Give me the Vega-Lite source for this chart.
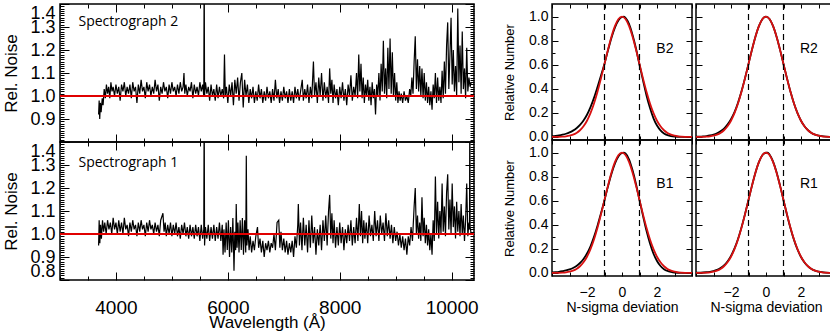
{
"$schema":"https://vega.github.io/schema/vega-lite/v6.json",
"background":"white",
"padding":{"left":2,"top":-4,"right":0,"bottom":0},
"datasets":{
"s2":[{"w":3690,"n":0.92},{"w":3700,"n":0.98},{"w":3710,"n":0.9},{"w":3722,"n":0.97},{"w":3735,"n":0.93},{"w":3755,"n":0.99},{"w":3770,"n":0.96},{"w":3790,"n":1.03},{"w":3810,"n":0.99},{"w":3830,"n":1.05},{"w":3850,"n":1.01},{"w":3870,"n":1.04},{"w":3890,"n":0.99},{"w":3910,"n":1.06},{"w":3930,"n":1.02},{"w":3950,"n":1.04},{"w":3975,"n":1.0},{"w":4000,"n":1.05},{"w":4025,"n":1.01},{"w":4050,"n":1.04},{"w":4075,"n":0.98},{"w":4100,"n":1.05},{"w":4125,"n":1.02},{"w":4150,"n":1.06},{"w":4175,"n":1.0},{"w":4200,"n":1.04},{"w":4225,"n":1.01},{"w":4250,"n":1.05},{"w":4275,"n":0.99},{"w":4300,"n":1.06},{"w":4325,"n":1.02},{"w":4350,"n":1.04},{"w":4375,"n":0.97},{"w":4400,"n":1.05},{"w":4425,"n":1.01},{"w":4450,"n":1.07},{"w":4475,"n":1.02},{"w":4500,"n":1.04},{"w":4525,"n":0.99},{"w":4550,"n":1.06},{"w":4575,"n":1.02},{"w":4600,"n":1.05},{"w":4625,"n":1.0},{"w":4650,"n":1.04},{"w":4675,"n":1.01},{"w":4700,"n":1.07},{"w":4725,"n":1.02},{"w":4750,"n":1.05},{"w":4775,"n":0.98},{"w":4800,"n":1.04},{"w":4825,"n":1.01},{"w":4850,"n":1.06},{"w":4875,"n":1.02},{"w":4900,"n":1.04},{"w":4925,"n":0.99},{"w":4950,"n":1.05},{"w":4975,"n":1.01},{"w":5000,"n":1.06},{"w":5025,"n":1.02},{"w":5050,"n":1.04},{"w":5075,"n":1.0},{"w":5100,"n":1.05},{"w":5125,"n":1.01},{"w":5150,"n":1.06},{"w":5175,"n":1.02},{"w":5200,"n":1.04},{"w":5216,"n":1.1},{"w":5230,"n":1.01},{"w":5250,"n":1.05},{"w":5275,"n":1.0},{"w":5300,"n":1.04},{"w":5325,"n":1.02},{"w":5350,"n":1.06},{"w":5375,"n":0.99},{"w":5400,"n":1.05},{"w":5425,"n":1.01},{"w":5450,"n":1.04},{"w":5475,"n":1.0},{"w":5500,"n":1.06},{"w":5525,"n":1.02},{"w":5550,"n":1.05},{"w":5570,"n":1.0},{"w":5577,"n":1.6},{"w":5584,"n":1.0},{"w":5600,"n":1.06},{"w":5625,"n":1.01},{"w":5650,"n":1.04},{"w":5675,"n":0.98},{"w":5700,"n":1.05},{"w":5725,"n":1.0},{"w":5750,"n":1.03},{"w":5775,"n":0.98},{"w":5800,"n":1.05},{"w":5825,"n":0.99},{"w":5850,"n":1.04},{"w":5875,"n":1.0},{"w":5900,"n":1.03},{"w":5925,"n":0.99},{"w":5940,"n":1.18},{"w":5955,"n":1.0},{"w":5975,"n":1.04},{"w":6000,"n":0.97},{"w":6025,"n":1.05},{"w":6050,"n":1.0},{"w":6075,"n":1.06},{"w":6100,"n":0.96},{"w":6125,"n":1.07},{"w":6150,"n":1.01},{"w":6175,"n":1.08},{"w":6200,"n":0.98},{"w":6225,"n":1.06},{"w":6250,"n":1.1},{"w":6275,"n":0.95},{"w":6300,"n":1.07},{"w":6325,"n":1.0},{"w":6350,"n":1.05},{"w":6375,"n":0.97},{"w":6400,"n":1.03},{"w":6425,"n":0.99},{"w":6450,"n":1.04},{"w":6475,"n":0.97},{"w":6500,"n":1.02},{"w":6525,"n":0.98},{"w":6550,"n":1.05},{"w":6575,"n":0.99},{"w":6600,"n":1.03},{"w":6625,"n":0.97},{"w":6650,"n":1.02},{"w":6675,"n":0.98},{"w":6700,"n":1.04},{"w":6725,"n":0.99},{"w":6750,"n":1.02},{"w":6775,"n":0.97},{"w":6800,"n":1.03},{"w":6825,"n":0.98},{"w":6850,"n":1.07},{"w":6875,"n":0.99},{"w":6900,"n":1.03},{"w":6925,"n":0.97},{"w":6950,"n":1.02},{"w":6975,"n":0.98},{"w":7000,"n":1.04},{"w":7025,"n":0.99},{"w":7050,"n":1.02},{"w":7075,"n":0.97},{"w":7100,"n":1.03},{"w":7125,"n":0.98},{"w":7150,"n":1.02},{"w":7175,"n":0.97},{"w":7200,"n":1.04},{"w":7225,"n":0.99},{"w":7250,"n":1.03},{"w":7275,"n":0.98},{"w":7300,"n":1.02},{"w":7330,"n":1.07},{"w":7350,"n":0.98},{"w":7375,"n":1.03},{"w":7400,"n":0.99},{"w":7425,"n":1.05},{"w":7450,"n":0.97},{"w":7475,"n":1.04},{"w":7500,"n":0.99},{"w":7530,"n":1.15},{"w":7550,"n":1.0},{"w":7575,"n":1.06},{"w":7600,"n":0.97},{"w":7625,"n":1.08},{"w":7650,"n":1.0},{"w":7675,"n":1.1},{"w":7700,"n":0.98},{"w":7725,"n":1.06},{"w":7750,"n":0.99},{"w":7775,"n":1.04},{"w":7800,"n":0.97},{"w":7820,"n":1.12},{"w":7840,"n":1.01},{"w":7860,"n":1.07},{"w":7880,"n":0.97},{"w":7900,"n":1.05},{"w":7925,"n":0.99},{"w":7950,"n":1.03},{"w":7975,"n":0.96},{"w":8000,"n":1.04},{"w":8025,"n":0.99},{"w":8050,"n":1.06},{"w":8075,"n":0.98},{"w":8100,"n":1.03},{"w":8125,"n":0.96},{"w":8150,"n":1.05},{"w":8175,"n":1.0},{"w":8200,"n":1.09},{"w":8225,"n":0.98},{"w":8250,"n":1.04},{"w":8275,"n":1.0},{"w":8300,"n":1.1},{"w":8320,"n":0.99},{"w":8340,"n":1.18},{"w":8360,"n":1.02},{"w":8380,"n":1.14},{"w":8400,"n":0.99},{"w":8420,"n":1.08},{"w":8440,"n":0.97},{"w":8460,"n":1.05},{"w":8480,"n":1.0},{"w":8500,"n":1.07},{"w":8520,"n":0.98},{"w":8540,"n":1.04},{"w":8560,"n":0.96},{"w":8580,"n":1.06},{"w":8600,"n":0.99},{"w":8620,"n":1.03},{"w":8640,"n":0.92},{"w":8660,"n":1.05},{"w":8680,"n":1.0},{"w":8700,"n":1.1},{"w":8720,"n":0.98},{"w":8740,"n":1.14},{"w":8760,"n":1.02},{"w":8780,"n":1.24},{"w":8800,"n":1.01},{"w":8820,"n":1.12},{"w":8840,"n":0.99},{"w":8860,"n":1.21},{"w":8880,"n":1.03},{"w":8900,"n":1.25},{"w":8920,"n":1.01},{"w":8940,"n":1.19},{"w":8960,"n":1.0},{"w":8980,"n":1.1},{"w":9000,"n":0.98},{"w":9020,"n":1.06},{"w":9040,"n":0.97},{"w":9060,"n":1.02},{"w":9080,"n":0.98},{"w":9100,"n":1.01},{"w":9125,"n":0.97},{"w":9150,"n":1.02},{"w":9175,"n":0.98},{"w":9200,"n":1.0},{"w":9225,"n":0.97},{"w":9250,"n":1.03},{"w":9270,"n":1.0},{"w":9290,"n":1.08},{"w":9310,"n":1.01},{"w":9330,"n":1.15},{"w":9350,"n":1.26},{"w":9370,"n":1.03},{"w":9390,"n":1.16},{"w":9410,"n":1.02},{"w":9430,"n":1.13},{"w":9450,"n":1.0},{"w":9470,"n":1.12},{"w":9490,"n":0.99},{"w":9510,"n":1.1},{"w":9530,"n":0.98},{"w":9550,"n":1.06},{"w":9570,"n":0.97},{"w":9590,"n":1.04},{"w":9610,"n":0.96},{"w":9630,"n":1.02},{"w":9650,"n":0.94},{"w":9670,"n":1.05},{"w":9690,"n":0.99},{"w":9710,"n":1.1},{"w":9730,"n":0.97},{"w":9750,"n":1.08},{"w":9770,"n":0.98},{"w":9790,"n":1.04},{"w":9810,"n":0.97},{"w":9830,"n":1.11},{"w":9850,"n":0.99},{"w":9870,"n":1.15},{"w":9890,"n":1.01},{"w":9910,"n":1.22},{"w":9930,"n":1.32},{"w":9950,"n":1.03},{"w":9970,"n":1.18},{"w":9990,"n":1.34},{"w":10010,"n":1.05},{"w":10030,"n":1.2},{"w":10050,"n":1.02},{"w":10070,"n":1.13},{"w":10090,"n":1.0},{"w":10110,"n":1.38},{"w":10130,"n":1.06},{"w":10150,"n":1.22},{"w":10170,"n":1.01},{"w":10190,"n":1.28},{"w":10210,"n":1.03},{"w":10230,"n":1.12},{"w":10250,"n":0.99},{"w":10270,"n":1.21},{"w":10290,"n":1.02},{"w":10310,"n":1.08},{"w":10330,"n":1.04},{"w":10350,"n":1.06}],
"s1":[{"w":3690,"n":0.95},{"w":3700,"n":1.06},{"w":3712,"n":0.96},{"w":3725,"n":1.04},{"w":3740,"n":0.98},{"w":3760,"n":1.06},{"w":3780,"n":1.01},{"w":3800,"n":1.05},{"w":3825,"n":1.0},{"w":3850,"n":1.06},{"w":3875,"n":1.02},{"w":3900,"n":1.05},{"w":3925,"n":1.0},{"w":3950,"n":1.07},{"w":3975,"n":1.02},{"w":4000,"n":1.05},{"w":4025,"n":1.0},{"w":4050,"n":1.06},{"w":4075,"n":1.01},{"w":4100,"n":1.05},{"w":4125,"n":1.0},{"w":4150,"n":1.07},{"w":4175,"n":1.02},{"w":4200,"n":1.04},{"w":4225,"n":0.99},{"w":4250,"n":1.05},{"w":4275,"n":1.01},{"w":4300,"n":1.06},{"w":4325,"n":1.02},{"w":4350,"n":1.04},{"w":4375,"n":0.99},{"w":4400,"n":1.05},{"w":4425,"n":1.01},{"w":4450,"n":1.06},{"w":4475,"n":1.02},{"w":4500,"n":1.04},{"w":4525,"n":0.99},{"w":4550,"n":1.05},{"w":4575,"n":1.01},{"w":4600,"n":1.06},{"w":4625,"n":1.02},{"w":4650,"n":1.04},{"w":4675,"n":1.0},{"w":4700,"n":1.05},{"w":4725,"n":1.01},{"w":4750,"n":1.04},{"w":4775,"n":0.99},{"w":4800,"n":1.06},{"w":4840,"n":1.09},{"w":4860,"n":1.01},{"w":4880,"n":1.05},{"w":4900,"n":0.99},{"w":4925,"n":1.04},{"w":4950,"n":1.0},{"w":4975,"n":1.05},{"w":5000,"n":0.99},{"w":5025,"n":1.04},{"w":5050,"n":1.0},{"w":5075,"n":1.05},{"w":5100,"n":0.99},{"w":5125,"n":1.03},{"w":5150,"n":0.98},{"w":5175,"n":1.04},{"w":5200,"n":1.0},{"w":5225,"n":1.05},{"w":5250,"n":0.99},{"w":5275,"n":1.03},{"w":5300,"n":0.98},{"w":5325,"n":1.04},{"w":5350,"n":0.99},{"w":5375,"n":1.03},{"w":5400,"n":0.98},{"w":5425,"n":1.04},{"w":5450,"n":0.99},{"w":5475,"n":1.03},{"w":5500,"n":0.97},{"w":5525,"n":1.04},{"w":5550,"n":0.98},{"w":5570,"n":1.02},{"w":5577,"n":1.6},{"w":5584,"n":0.95},{"w":5600,"n":1.03},{"w":5625,"n":0.98},{"w":5650,"n":1.04},{"w":5675,"n":0.97},{"w":5700,"n":1.03},{"w":5725,"n":0.98},{"w":5750,"n":1.04},{"w":5775,"n":0.97},{"w":5800,"n":1.03},{"w":5825,"n":0.98},{"w":5850,"n":1.05},{"w":5875,"n":0.97},{"w":5900,"n":1.04},{"w":5915,"n":0.91},{"w":5930,"n":1.02},{"w":5950,"n":0.92},{"w":5970,"n":1.05},{"w":5990,"n":0.93},{"w":6010,"n":1.06},{"w":6030,"n":0.9},{"w":6050,"n":1.03},{"w":6070,"n":0.92},{"w":6090,"n":1.07},{"w":6110,"n":0.84},{"w":6125,"n":1.01},{"w":6140,"n":0.93},{"w":6150,"n":1.13},{"w":6165,"n":0.94},{"w":6180,"n":1.05},{"w":6200,"n":0.92},{"w":6220,"n":1.06},{"w":6240,"n":0.93},{"w":6260,"n":1.07},{"w":6280,"n":0.91},{"w":6300,"n":1.06},{"w":6320,"n":0.92},{"w":6330,"n":1.34},{"w":6340,"n":0.95},{"w":6360,"n":1.02},{"w":6380,"n":0.93},{"w":6400,"n":0.99},{"w":6425,"n":0.92},{"w":6450,"n":0.97},{"w":6475,"n":0.93},{"w":6500,"n":0.99},{"w":6530,"n":1.03},{"w":6550,"n":0.94},{"w":6575,"n":0.98},{"w":6600,"n":0.92},{"w":6625,"n":0.97},{"w":6650,"n":0.9},{"w":6675,"n":0.96},{"w":6700,"n":0.93},{"w":6725,"n":0.97},{"w":6750,"n":0.92},{"w":6775,"n":0.96},{"w":6800,"n":0.94},{"w":6825,"n":1.0},{"w":6850,"n":0.93},{"w":6880,"n":1.05},{"w":6910,"n":1.06},{"w":6930,"n":0.94},{"w":6950,"n":1.01},{"w":6975,"n":0.93},{"w":7000,"n":0.98},{"w":7025,"n":0.92},{"w":7050,"n":0.97},{"w":7075,"n":0.91},{"w":7100,"n":0.96},{"w":7125,"n":0.92},{"w":7150,"n":0.97},{"w":7175,"n":0.9},{"w":7200,"n":0.99},{"w":7225,"n":0.94},{"w":7250,"n":1.04},{"w":7260,"n":1.13},{"w":7280,"n":0.95},{"w":7300,"n":1.05},{"w":7325,"n":0.93},{"w":7350,"n":1.07},{"w":7375,"n":0.95},{"w":7400,"n":1.04},{"w":7425,"n":0.92},{"w":7450,"n":1.06},{"w":7475,"n":0.94},{"w":7500,"n":1.08},{"w":7525,"n":0.96},{"w":7550,"n":1.03},{"w":7575,"n":0.91},{"w":7600,"n":1.02},{"w":7625,"n":0.95},{"w":7650,"n":1.04},{"w":7675,"n":0.93},{"w":7700,"n":1.06},{"w":7725,"n":0.97},{"w":7750,"n":1.08},{"w":7775,"n":0.95},{"w":7800,"n":1.1},{"w":7820,"n":1.17},{"w":7840,"n":0.98},{"w":7860,"n":1.09},{"w":7880,"n":0.96},{"w":7900,"n":1.06},{"w":7925,"n":0.94},{"w":7950,"n":1.03},{"w":7975,"n":0.95},{"w":8000,"n":1.05},{"w":8025,"n":0.96},{"w":8050,"n":1.03},{"w":8075,"n":0.93},{"w":8100,"n":1.02},{"w":8125,"n":0.96},{"w":8150,"n":1.04},{"w":8175,"n":0.97},{"w":8200,"n":1.06},{"w":8225,"n":0.95},{"w":8250,"n":1.03},{"w":8275,"n":0.96},{"w":8300,"n":1.07},{"w":8325,"n":0.97},{"w":8350,"n":1.13},{"w":8370,"n":0.99},{"w":8390,"n":1.1},{"w":8410,"n":0.96},{"w":8430,"n":1.06},{"w":8450,"n":0.98},{"w":8475,"n":1.05},{"w":8500,"n":0.96},{"w":8525,"n":1.08},{"w":8550,"n":0.99},{"w":8575,"n":1.04},{"w":8600,"n":0.97},{"w":8625,"n":1.1},{"w":8650,"n":0.99},{"w":8675,"n":1.06},{"w":8700,"n":0.97},{"w":8725,"n":1.08},{"w":8750,"n":1.0},{"w":8775,"n":1.05},{"w":8800,"n":0.97},{"w":8825,"n":1.09},{"w":8850,"n":0.99},{"w":8875,"n":1.06},{"w":8900,"n":0.98},{"w":8925,"n":1.04},{"w":8950,"n":0.96},{"w":8975,"n":1.03},{"w":9000,"n":0.97},{"w":9025,"n":1.01},{"w":9050,"n":0.95},{"w":9075,"n":1.0},{"w":9100,"n":0.94},{"w":9125,"n":0.99},{"w":9150,"n":0.93},{"w":9175,"n":0.98},{"w":9200,"n":0.91},{"w":9225,"n":0.99},{"w":9250,"n":0.95},{"w":9275,"n":1.03},{"w":9300,"n":0.97},{"w":9330,"n":1.12},{"w":9350,"n":1.2},{"w":9370,"n":1.0},{"w":9390,"n":1.08},{"w":9410,"n":0.98},{"w":9430,"n":1.05},{"w":9450,"n":0.97},{"w":9470,"n":1.16},{"w":9490,"n":0.99},{"w":9510,"n":1.07},{"w":9530,"n":0.96},{"w":9550,"n":1.04},{"w":9570,"n":0.95},{"w":9590,"n":1.02},{"w":9610,"n":0.93},{"w":9630,"n":1.0},{"w":9650,"n":0.91},{"w":9670,"n":1.06},{"w":9690,"n":0.97},{"w":9710,"n":1.25},{"w":9730,"n":1.0},{"w":9750,"n":1.14},{"w":9770,"n":0.98},{"w":9790,"n":1.1},{"w":9810,"n":1.0},{"w":9830,"n":1.22},{"w":9850,"n":1.01},{"w":9870,"n":1.12},{"w":9890,"n":0.99},{"w":9910,"n":1.18},{"w":9930,"n":1.26},{"w":9950,"n":1.02},{"w":9970,"n":1.15},{"w":9990,"n":1.0},{"w":10010,"n":1.22},{"w":10030,"n":1.03},{"w":10050,"n":1.12},{"w":10070,"n":0.98},{"w":10090,"n":1.14},{"w":10110,"n":1.01},{"w":10130,"n":1.1},{"w":10150,"n":0.99},{"w":10170,"n":1.13},{"w":10190,"n":1.0},{"w":10210,"n":1.08},{"w":10230,"n":0.97},{"w":10250,"n":1.06},{"w":10270,"n":1.22},{"w":10290,"n":0.99},{"w":10310,"n":1.05},{"w":10320,"n":1.02},{"w":10325,"n":1.6},{"w":10330,"n":1.03},{"w":10350,"n":1.0}],
"g":[{"x":-4.0,"y":0.0003},{"x":-3.8,"y":0.0007},{"x":-3.6,"y":0.0015},{"x":-3.4,"y":0.0031},{"x":-3.2,"y":0.006},{"x":-3.0,"y":0.0111},{"x":-2.8,"y":0.0198},{"x":-2.6,"y":0.034},{"x":-2.4,"y":0.0561},{"x":-2.2,"y":0.0889},{"x":-2.0,"y":0.1353},{"x":-1.8,"y":0.1979},{"x":-1.6,"y":0.278},{"x":-1.4,"y":0.3753},{"x":-1.2,"y":0.4868},{"x":-1.0,"y":0.6065},{"x":-0.8,"y":0.7261},{"x":-0.6,"y":0.8353},{"x":-0.4,"y":0.9231},{"x":-0.2,"y":0.9802},{"x":0.0,"y":1.0},{"x":0.2,"y":0.9802},{"x":0.4,"y":0.9231},{"x":0.6,"y":0.8353},{"x":0.8,"y":0.7261},{"x":1.0,"y":0.6065},{"x":1.2,"y":0.4868},{"x":1.4,"y":0.3753},{"x":1.6,"y":0.278},{"x":1.8,"y":0.1979},{"x":2.0,"y":0.1353},{"x":2.2,"y":0.0889},{"x":2.4,"y":0.0561},{"x":2.6,"y":0.034},{"x":2.8,"y":0.0198},{"x":3.0,"y":0.0111},{"x":3.2,"y":0.006},{"x":3.4,"y":0.0031},{"x":3.6,"y":0.0015},{"x":3.8,"y":0.0007},{"x":4.0,"y":0.0003}],
"k":[
{"p":"B2","x":-4.0,"y":0.006},{"p":"B2","x":-3.8,"y":0.009},{"p":"B2","x":-3.6,"y":0.013},{"p":"B2","x":-3.4,"y":0.019},{"p":"B2","x":-3.2,"y":0.027},{"p":"B2","x":-3.0,"y":0.038},{"p":"B2","x":-2.8,"y":0.053},{"p":"B2","x":-2.6,"y":0.073},{"p":"B2","x":-2.4,"y":0.1},{"p":"B2","x":-2.2,"y":0.137},{"p":"B2","x":-2.0,"y":0.185},{"p":"B2","x":-1.8,"y":0.248},{"p":"B2","x":-1.6,"y":0.325},{"p":"B2","x":-1.4,"y":0.415},{"p":"B2","x":-1.2,"y":0.51},{"p":"B2","x":-1.0,"y":0.608},{"p":"B2","x":-0.8,"y":0.72},{"p":"B2","x":-0.6,"y":0.825},{"p":"B2","x":-0.4,"y":0.91},{"p":"B2","x":-0.2,"y":0.97},{"p":"B2","x":0.0,"y":0.997},{"p":"B2","x":0.1,"y":1.0},{"p":"B2","x":0.2,"y":0.99},{"p":"B2","x":0.4,"y":0.94},{"p":"B2","x":0.6,"y":0.85},{"p":"B2","x":0.8,"y":0.735},{"p":"B2","x":1.0,"y":0.6},{"p":"B2","x":1.2,"y":0.47},{"p":"B2","x":1.4,"y":0.345},{"p":"B2","x":1.6,"y":0.24},{"p":"B2","x":1.8,"y":0.155},{"p":"B2","x":2.0,"y":0.095},{"p":"B2","x":2.2,"y":0.055},{"p":"B2","x":2.4,"y":0.03},{"p":"B2","x":2.6,"y":0.016},{"p":"B2","x":2.8,"y":0.008},{"p":"B2","x":3.0,"y":0.004},{"p":"B2","x":3.4,"y":0.001},{"p":"B2","x":4.0,"y":0.0},
{"p":"B1","x":-4.0,"y":0.005},{"p":"B1","x":-3.8,"y":0.007},{"p":"B1","x":-3.6,"y":0.01},{"p":"B1","x":-3.4,"y":0.015},{"p":"B1","x":-3.2,"y":0.021},{"p":"B1","x":-3.0,"y":0.03},{"p":"B1","x":-2.8,"y":0.042},{"p":"B1","x":-2.6,"y":0.059},{"p":"B1","x":-2.4,"y":0.083},{"p":"B1","x":-2.2,"y":0.116},{"p":"B1","x":-2.0,"y":0.162},{"p":"B1","x":-1.8,"y":0.222},{"p":"B1","x":-1.6,"y":0.3},{"p":"B1","x":-1.4,"y":0.393},{"p":"B1","x":-1.2,"y":0.497},{"p":"B1","x":-1.0,"y":0.605},{"p":"B1","x":-0.8,"y":0.72},{"p":"B1","x":-0.6,"y":0.825},{"p":"B1","x":-0.4,"y":0.91},{"p":"B1","x":-0.2,"y":0.97},{"p":"B1","x":0.0,"y":0.997},{"p":"B1","x":0.1,"y":1.0},{"p":"B1","x":0.2,"y":0.993},{"p":"B1","x":0.4,"y":0.945},{"p":"B1","x":0.6,"y":0.855},{"p":"B1","x":0.8,"y":0.74},{"p":"B1","x":1.0,"y":0.605},{"p":"B1","x":1.2,"y":0.475},{"p":"B1","x":1.4,"y":0.35},{"p":"B1","x":1.6,"y":0.245},{"p":"B1","x":1.8,"y":0.16},{"p":"B1","x":2.0,"y":0.1},{"p":"B1","x":2.2,"y":0.058},{"p":"B1","x":2.4,"y":0.032},{"p":"B1","x":2.6,"y":0.017},{"p":"B1","x":2.8,"y":0.009},{"p":"B1","x":3.0,"y":0.004},{"p":"B1","x":3.4,"y":0.001},{"p":"B1","x":4.0,"y":0.0},
{"p":"R2","x":-4.0,"y":0.002},{"p":"R2","x":-3.8,"y":0.003},{"p":"R2","x":-3.6,"y":0.005},{"p":"R2","x":-3.4,"y":0.008},{"p":"R2","x":-3.2,"y":0.013},{"p":"R2","x":-3.0,"y":0.02},{"p":"R2","x":-2.8,"y":0.031},{"p":"R2","x":-2.6,"y":0.047},{"p":"R2","x":-2.4,"y":0.07},{"p":"R2","x":-2.2,"y":0.103},{"p":"R2","x":-2.0,"y":0.148},{"p":"R2","x":-1.8,"y":0.207},{"p":"R2","x":-1.6,"y":0.285},{"p":"R2","x":-1.4,"y":0.38},{"p":"R2","x":-1.2,"y":0.489},{"p":"R2","x":-1.0,"y":0.607},{"p":"R2","x":-0.8,"y":0.726},{"p":"R2","x":-0.6,"y":0.835},{"p":"R2","x":-0.4,"y":0.923},{"p":"R2","x":-0.2,"y":0.98},{"p":"R2","x":0.0,"y":1.0},{"p":"R2","x":0.2,"y":0.98},{"p":"R2","x":0.4,"y":0.923},{"p":"R2","x":0.6,"y":0.835},{"p":"R2","x":0.8,"y":0.726},{"p":"R2","x":1.0,"y":0.6065},{"p":"R2","x":1.2,"y":0.4868},{"p":"R2","x":1.4,"y":0.3753},{"p":"R2","x":1.6,"y":0.278},{"p":"R2","x":1.8,"y":0.1979},{"p":"R2","x":2.0,"y":0.1353},{"p":"R2","x":2.2,"y":0.0889},{"p":"R2","x":2.4,"y":0.0561},{"p":"R2","x":2.6,"y":0.034},{"p":"R2","x":2.8,"y":0.0198},{"p":"R2","x":3.0,"y":0.0111},{"p":"R2","x":3.4,"y":0.003},{"p":"R2","x":4.0,"y":0.0003},
{"p":"R1","x":-4.0,"y":0.002},{"p":"R1","x":-3.8,"y":0.003},{"p":"R1","x":-3.6,"y":0.004},{"p":"R1","x":-3.4,"y":0.006},{"p":"R1","x":-3.2,"y":0.01},{"p":"R1","x":-3.0,"y":0.016},{"p":"R1","x":-2.8,"y":0.026},{"p":"R1","x":-2.6,"y":0.041},{"p":"R1","x":-2.4,"y":0.063},{"p":"R1","x":-2.2,"y":0.096},{"p":"R1","x":-2.0,"y":0.142},{"p":"R1","x":-1.8,"y":0.204},{"p":"R1","x":-1.6,"y":0.283},{"p":"R1","x":-1.4,"y":0.379},{"p":"R1","x":-1.2,"y":0.489},{"p":"R1","x":-1.0,"y":0.607},{"p":"R1","x":-0.8,"y":0.726},{"p":"R1","x":-0.6,"y":0.835},{"p":"R1","x":-0.4,"y":0.923},{"p":"R1","x":-0.2,"y":0.98},{"p":"R1","x":0.0,"y":0.999},{"p":"R1","x":0.1,"y":1.0},{"p":"R1","x":0.2,"y":0.985},{"p":"R1","x":0.4,"y":0.928},{"p":"R1","x":0.6,"y":0.84},{"p":"R1","x":0.8,"y":0.728},{"p":"R1","x":1.0,"y":0.605},{"p":"R1","x":1.2,"y":0.484},{"p":"R1","x":1.4,"y":0.372},{"p":"R1","x":1.6,"y":0.275},{"p":"R1","x":1.8,"y":0.195},{"p":"R1","x":2.0,"y":0.133},{"p":"R1","x":2.2,"y":0.087},{"p":"R1","x":2.4,"y":0.055},{"p":"R1","x":2.6,"y":0.033},{"p":"R1","x":2.8,"y":0.019},{"p":"R1","x":3.0,"y":0.011},{"p":"R1","x":3.4,"y":0.003},{"p":"R1","x":4.0,"y":0.0003}
]
},
"spacing":23,
"hconcat":[
{"vconcat":[
 {"width":414,"height":138,
  "layer":[
   {"data":{"name":"s2"},"mark":{"type":"line","color":"black","strokeWidth":1.2,"clip":true},
    "encoding":{
     "x":{"field":"w","type":"quantitative","scale":{"domain":[3000,10400],"nice":false,"zero":false},
      "axis":{"orient":"bottom","values":[3000,3500,4000,4500,5000,5500,6000,6500,7000,7500,8000,8500,9000,9500,10000],"labels":false,"title":null,"tickSize":{"condition":{"test":"datum.value%2000==0","value":-8},"value":-4}}},
     "y":{"field":"n","type":"quantitative","scale":{"domain":[0.8,1.4],"nice":false,"zero":false},
      "axis":{"orient":"left","values":[0.8,0.81,0.82,0.83,0.84,0.85,0.86,0.87,0.88,0.89,0.9,0.91,0.92,0.93,0.94,0.95,0.96,0.97,0.98,0.99,1.0,1.01,1.02,1.03,1.04,1.05,1.06,1.07,1.08,1.09,1.1,1.11,1.12,1.13,1.14,1.15,1.16,1.17,1.18,1.19,1.2,1.21,1.22,1.23,1.24,1.25,1.26,1.27,1.28,1.29,1.3,1.31,1.32,1.33,1.34,1.35,1.36,1.37,1.38,1.39,1.4],
       "labelExpr":"abs(datum.value*10-round(datum.value*10))<0.001 && datum.value>0.85 ? format(datum.value,'.1f') : ''",
       "labelFontSize":18,"labelPadding":14,"labelFlush":true,
       "tickSize":{"condition":{"test":"abs(datum.value*10-round(datum.value*10))<0.001","value":-9},"value":-4},
       "title":"Rel. Noise","titleFontSize":17,"titlePadding":9}}}},
   {"data":{"values":[{"w":3330,"n":1.32,"t":"Spectrograph 2"}]},
    "mark":{"type":"text","align":"left","baseline":"middle","font":"Open Sans","fontSize":14,"color":"black"},
    "encoding":{
     "x":{"field":"w","type":"quantitative","scale":{"domain":[3000,10400],"nice":false,"zero":false},
      "axis":{"orient":"top","values":[3000,3500,4000,4500,5000,5500,6000,6500,7000,7500,8000,8500,9000,9500,10000],"labels":false,"title":null,"tickSize":{"condition":{"test":"datum.value%2000==0","value":-8},"value":-4}}},
     "y":{"field":"n","type":"quantitative","scale":{"domain":[0.8,1.4],"nice":false,"zero":false},
      "axis":{"orient":"right","values":[0.8,0.81,0.82,0.83,0.84,0.85,0.86,0.87,0.88,0.89,0.9,0.91,0.92,0.93,0.94,0.95,0.96,0.97,0.98,0.99,1.0,1.01,1.02,1.03,1.04,1.05,1.06,1.07,1.08,1.09,1.1,1.11,1.12,1.13,1.14,1.15,1.16,1.17,1.18,1.19,1.2,1.21,1.22,1.23,1.24,1.25,1.26,1.27,1.28,1.29,1.3,1.31,1.32,1.33,1.34,1.35,1.36,1.37,1.38,1.39,1.4],
       "labels":false,"title":null,
       "tickSize":{"condition":{"test":"abs(datum.value*10-round(datum.value*10))<0.001","value":-9},"value":-4}}},
     "text":{"field":"t"}}},
   {"data":{"values":[{"n":1}]},"mark":{"type":"rule","color":"#e00000","strokeWidth":1.8},
    "encoding":{"y":{"field":"n","type":"quantitative","scale":{"domain":[0.8,1.4],"nice":false,"zero":false},"axis":null}}}
  ],
  "resolve":{"axis":{"x":"independent","y":"independent"}}},
 {"width":414,"height":138,
  "layer":[
   {"data":{"name":"s1"},"mark":{"type":"line","color":"black","strokeWidth":1.2,"clip":true},
    "encoding":{
     "x":{"field":"w","type":"quantitative","scale":{"domain":[3000,10400],"nice":false,"zero":false},
      "axis":{"orient":"bottom","values":[3000,3500,4000,4500,5000,5500,6000,6500,7000,7500,8000,8500,9000,9500,10000],
       "labelExpr":"datum.value%2000==0 ? format(datum.value,'d') : ''","labelFontSize":19,"labelPadding":26,
       "tickSize":{"condition":{"test":"datum.value%2000==0","value":-8},"value":-4},
       "title":"Wavelength (Å)","titleFontSize":17,"titlePadding":-7}},
     "y":{"field":"n","type":"quantitative","scale":{"domain":[0.8,1.4],"nice":false,"zero":false},
      "axis":{"orient":"left","values":[0.8,0.81,0.82,0.83,0.84,0.85,0.86,0.87,0.88,0.89,0.9,0.91,0.92,0.93,0.94,0.95,0.96,0.97,0.98,0.99,1.0,1.01,1.02,1.03,1.04,1.05,1.06,1.07,1.08,1.09,1.1,1.11,1.12,1.13,1.14,1.15,1.16,1.17,1.18,1.19,1.2,1.21,1.22,1.23,1.24,1.25,1.26,1.27,1.28,1.29,1.3,1.31,1.32,1.33,1.34,1.35,1.36,1.37,1.38,1.39,1.4],
       "labelExpr":"abs(datum.value*10-round(datum.value*10))<0.001 ? format(datum.value,'.1f') : ''",
       "labelFontSize":18,"labelPadding":14,"labelFlush":true,
       "tickSize":{"condition":{"test":"abs(datum.value*10-round(datum.value*10))<0.001","value":-9},"value":-4},
       "title":"Rel. Noise","titleFontSize":17,"titlePadding":9}}}},
   {"data":{"values":[{"w":3330,"n":1.31,"t":"Spectrograph 1"}]},
    "mark":{"type":"text","align":"left","baseline":"middle","font":"Open Sans","fontSize":14,"color":"black"},
    "encoding":{
     "x":{"field":"w","type":"quantitative","scale":{"domain":[3000,10400],"nice":false,"zero":false},
      "axis":{"orient":"top","values":[3000,3500,4000,4500,5000,5500,6000,6500,7000,7500,8000,8500,9000,9500,10000],"labels":false,"title":null,"tickSize":{"condition":{"test":"datum.value%2000==0","value":-8},"value":-4}}},
     "y":{"field":"n","type":"quantitative","scale":{"domain":[0.8,1.4],"nice":false,"zero":false},
      "axis":{"orient":"right","values":[0.8,0.81,0.82,0.83,0.84,0.85,0.86,0.87,0.88,0.89,0.9,0.91,0.92,0.93,0.94,0.95,0.96,0.97,0.98,0.99,1.0,1.01,1.02,1.03,1.04,1.05,1.06,1.07,1.08,1.09,1.1,1.11,1.12,1.13,1.14,1.15,1.16,1.17,1.18,1.19,1.2,1.21,1.22,1.23,1.24,1.25,1.26,1.27,1.28,1.29,1.3,1.31,1.32,1.33,1.34,1.35,1.36,1.37,1.38,1.39,1.4],
       "labels":false,"title":null,
       "tickSize":{"condition":{"test":"abs(datum.value*10-round(datum.value*10))<0.001","value":-9},"value":-4}}},
     "text":{"field":"t"}}},
   {"data":{"values":[{"n":1}]},"mark":{"type":"rule","color":"#e00000","strokeWidth":1.8},
    "encoding":{"y":{"field":"n","type":"quantitative","scale":{"domain":[0.8,1.4],"nice":false,"zero":false},"axis":null}}}
  ],
  "resolve":{"axis":{"x":"independent","y":"independent"}}}
 ],"spacing":0,"bounds":"flush"},
{"hconcat":[
 {"vconcat":[
  {"width":140,"height":136,
   "layer":[
    {"data":{"name":"k"},"transform":[{"filter":"datum.p=='B2'"}],"mark":{"type":"line","color":"black","strokeWidth":1.8,"interpolate":"monotone","clip":true},
     "encoding":{
      "x":{"field":"x","type":"quantitative","scale":{"domain":[-4,4],"nice":false,"zero":false},"axis":{"orient":"bottom","values":[-4,-3,-2,-1,0,1,2,3,4],"labels":false,"title":null,"tickSize":-4}},
      "y":{"field":"y","type":"quantitative","scale":{"domain":[-0.025,1.105],"nice":false,"zero":false},"axis":{"orient":"left","values":[0,0.1,0.2,0.3,0.4,0.5,0.6,0.7,0.8,0.9,1.0],"labelExpr":"abs(datum.value*5-round(datum.value*5))<0.001 ? format(datum.value,'.1f') : ''","labelFontSize":14,"labelPadding":10,"tickSize":{"condition":{"test":"abs(datum.value*5-round(datum.value*5))<0.001","value":-6},"value":-3},"title":"Relative Number","titleFontSize":13,"titlePadding":12}}}},
    {"data":{"name":"g"},"mark":{"type":"line","color":"#d81010","strokeWidth":1.8,"interpolate":"monotone","clip":true},
     "encoding":{
      "x":{"field":"x","type":"quantitative","scale":{"domain":[-4,4],"nice":false,"zero":false},"axis":{"orient":"top","values":[-4,-3,-2,-1,0,1,2,3,4],"labels":false,"title":null,"tickSize":-4}},
      "y":{"field":"y","type":"quantitative","scale":{"domain":[-0.025,1.105],"nice":false,"zero":false},"axis":{"orient":"right","values":[0,0.1,0.2,0.3,0.4,0.5,0.6,0.7,0.8,0.9,1.0],"labels":false,"title":null,"tickSize":{"condition":{"test":"abs(datum.value*5-round(datum.value*5))<0.001","value":-6},"value":-3}}}}},
    {"data":{"values":[{"x":-1},{"x":1}]},"mark":{"type":"rule","color":"black","strokeWidth":1.2,"strokeDash":[6,4]},
     "encoding":{"x":{"field":"x","type":"quantitative","scale":{"domain":[-4,4],"nice":false,"zero":false},"axis":null}}},
    {"data":{"values":[{"x":2.45,"y":0.73,"t":"B2"}]},"mark":{"type":"text","fontSize":14,"color":"black"},
     "encoding":{"x":{"field":"x","type":"quantitative","scale":{"domain":[-4,4],"nice":false,"zero":false},"axis":null},"y":{"field":"y","type":"quantitative","scale":{"domain":[-0.025,1.105],"nice":false,"zero":false},"axis":null},"text":{"field":"t"}}}
   ],
   "resolve":{"axis":{"x":"independent","y":"independent"}}},
  {"width":140,"height":136,
   "layer":[
    {"data":{"name":"k"},"transform":[{"filter":"datum.p=='B1'"}],"mark":{"type":"line","color":"black","strokeWidth":1.8,"interpolate":"monotone","clip":true},
     "encoding":{
      "x":{"field":"x","type":"quantitative","scale":{"domain":[-4,4],"nice":false,"zero":false},"axis":{"orient":"bottom","values":[-4,-3,-2,-1,0,1,2,3,4],"labelExpr":"datum.value==-2||datum.value==0||datum.value==2 ? format(datum.value,'d') : ''","labelFontSize":14,"labelPadding":13,"tickSize":-4,"title":"N-sigma deviation","titleFontSize":14,"titlePadding":1}},
      "y":{"field":"y","type":"quantitative","scale":{"domain":[-0.025,1.105],"nice":false,"zero":false},"axis":{"orient":"left","values":[0,0.1,0.2,0.3,0.4,0.5,0.6,0.7,0.8,0.9,1.0],"labelExpr":"abs(datum.value*5-round(datum.value*5))<0.001 ? format(datum.value,'.1f') : ''","labelFontSize":14,"labelPadding":10,"tickSize":{"condition":{"test":"abs(datum.value*5-round(datum.value*5))<0.001","value":-6},"value":-3},"title":"Relative Number","titleFontSize":13,"titlePadding":12}}}},
    {"data":{"name":"g"},"mark":{"type":"line","color":"#d81010","strokeWidth":1.8,"interpolate":"monotone","clip":true},
     "encoding":{
      "x":{"field":"x","type":"quantitative","scale":{"domain":[-4,4],"nice":false,"zero":false},"axis":{"orient":"top","values":[-4,-3,-2,-1,0,1,2,3,4],"labels":false,"title":null,"tickSize":-4}},
      "y":{"field":"y","type":"quantitative","scale":{"domain":[-0.025,1.105],"nice":false,"zero":false},"axis":{"orient":"right","values":[0,0.1,0.2,0.3,0.4,0.5,0.6,0.7,0.8,0.9,1.0],"labels":false,"title":null,"tickSize":{"condition":{"test":"abs(datum.value*5-round(datum.value*5))<0.001","value":-6},"value":-3}}}}},
    {"data":{"values":[{"x":-1},{"x":1}]},"mark":{"type":"rule","color":"black","strokeWidth":1.2,"strokeDash":[6,4]},
     "encoding":{"x":{"field":"x","type":"quantitative","scale":{"domain":[-4,4],"nice":false,"zero":false},"axis":null}}},
    {"data":{"values":[{"x":2.45,"y":0.74,"t":"B1"}]},"mark":{"type":"text","fontSize":14,"color":"black"},
     "encoding":{"x":{"field":"x","type":"quantitative","scale":{"domain":[-4,4],"nice":false,"zero":false},"axis":null},"y":{"field":"y","type":"quantitative","scale":{"domain":[-0.025,1.105],"nice":false,"zero":false},"axis":null},"text":{"field":"t"}}}
   ],
   "resolve":{"axis":{"x":"independent","y":"independent"}}}
 ],"spacing":0,"bounds":"flush"},
 {"vconcat":[
  {"width":140,"height":136,
   "layer":[
    {"data":{"name":"k"},"transform":[{"filter":"datum.p=='R2'"}],"mark":{"type":"line","color":"black","strokeWidth":1.8,"interpolate":"monotone","clip":true},
     "encoding":{
      "x":{"field":"x","type":"quantitative","scale":{"domain":[-4,4],"nice":false,"zero":false},"axis":{"orient":"bottom","values":[-4,-3,-2,-1,0,1,2,3,4],"labels":false,"title":null,"tickSize":-4}},
      "y":{"field":"y","type":"quantitative","scale":{"domain":[-0.025,1.105],"nice":false,"zero":false},"axis":{"orient":"left","values":[0,0.1,0.2,0.3,0.4,0.5,0.6,0.7,0.8,0.9,1.0],"labels":false,"title":null,"tickSize":{"condition":{"test":"abs(datum.value*5-round(datum.value*5))<0.001","value":-6},"value":-3}}}}},
    {"data":{"name":"g"},"mark":{"type":"line","color":"#d81010","strokeWidth":1.8,"interpolate":"monotone","clip":true},
     "encoding":{
      "x":{"field":"x","type":"quantitative","scale":{"domain":[-4,4],"nice":false,"zero":false},"axis":{"orient":"top","values":[-4,-3,-2,-1,0,1,2,3,4],"labels":false,"title":null,"tickSize":-4}},
      "y":{"field":"y","type":"quantitative","scale":{"domain":[-0.025,1.105],"nice":false,"zero":false},"axis":{"orient":"right","values":[0,0.1,0.2,0.3,0.4,0.5,0.6,0.7,0.8,0.9,1.0],"labels":false,"title":null,"tickSize":{"condition":{"test":"abs(datum.value*5-round(datum.value*5))<0.001","value":-6},"value":-3}}}}},
    {"data":{"values":[{"x":-1},{"x":1}]},"mark":{"type":"rule","color":"black","strokeWidth":1.2,"strokeDash":[6,4]},
     "encoding":{"x":{"field":"x","type":"quantitative","scale":{"domain":[-4,4],"nice":false,"zero":false},"axis":null}}},
    {"data":{"values":[{"x":2.45,"y":0.73,"t":"R2"}]},"mark":{"type":"text","fontSize":14,"color":"black"},
     "encoding":{"x":{"field":"x","type":"quantitative","scale":{"domain":[-4,4],"nice":false,"zero":false},"axis":null},"y":{"field":"y","type":"quantitative","scale":{"domain":[-0.025,1.105],"nice":false,"zero":false},"axis":null},"text":{"field":"t"}}}
   ],
   "resolve":{"axis":{"x":"independent","y":"independent"}}},
  {"width":140,"height":136,
   "layer":[
    {"data":{"name":"k"},"transform":[{"filter":"datum.p=='R1'"}],"mark":{"type":"line","color":"black","strokeWidth":1.8,"interpolate":"monotone","clip":true},
     "encoding":{
      "x":{"field":"x","type":"quantitative","scale":{"domain":[-4,4],"nice":false,"zero":false},"axis":{"orient":"bottom","values":[-4,-3,-2,-1,0,1,2,3,4],"labelExpr":"datum.value==-2||datum.value==0||datum.value==2 ? format(datum.value,'d') : ''","labelFontSize":14,"labelPadding":13,"tickSize":-4,"title":"N-sigma deviation","titleFontSize":14,"titlePadding":1}},
      "y":{"field":"y","type":"quantitative","scale":{"domain":[-0.025,1.105],"nice":false,"zero":false},"axis":{"orient":"left","values":[0,0.1,0.2,0.3,0.4,0.5,0.6,0.7,0.8,0.9,1.0],"labels":false,"title":null,"tickSize":{"condition":{"test":"abs(datum.value*5-round(datum.value*5))<0.001","value":-6},"value":-3}}}}},
    {"data":{"name":"g"},"mark":{"type":"line","color":"#d81010","strokeWidth":1.8,"interpolate":"monotone","clip":true},
     "encoding":{
      "x":{"field":"x","type":"quantitative","scale":{"domain":[-4,4],"nice":false,"zero":false},"axis":{"orient":"top","values":[-4,-3,-2,-1,0,1,2,3,4],"labels":false,"title":null,"tickSize":-4}},
      "y":{"field":"y","type":"quantitative","scale":{"domain":[-0.025,1.105],"nice":false,"zero":false},"axis":{"orient":"right","values":[0,0.1,0.2,0.3,0.4,0.5,0.6,0.7,0.8,0.9,1.0],"labels":false,"title":null,"tickSize":{"condition":{"test":"abs(datum.value*5-round(datum.value*5))<0.001","value":-6},"value":-3}}}}},
    {"data":{"values":[{"x":-1},{"x":1}]},"mark":{"type":"rule","color":"black","strokeWidth":1.2,"strokeDash":[6,4]},
     "encoding":{"x":{"field":"x","type":"quantitative","scale":{"domain":[-4,4],"nice":false,"zero":false},"axis":null}}},
    {"data":{"values":[{"x":2.45,"y":0.74,"t":"R1"}]},"mark":{"type":"text","fontSize":14,"color":"black"},
     "encoding":{"x":{"field":"x","type":"quantitative","scale":{"domain":[-4,4],"nice":false,"zero":false},"axis":null},"y":{"field":"y","type":"quantitative","scale":{"domain":[-0.025,1.105],"nice":false,"zero":false},"axis":null},"text":{"field":"t"}}}
   ],
   "resolve":{"axis":{"x":"independent","y":"independent"}}}
 ],"spacing":0,"bounds":"flush"}
],"spacing":0}
],
"config":{
 "view":{"stroke":"black","strokeWidth":1.5},
 "font":"Liberation Sans",
 "axis":{"grid":false,"domain":false,"tickColor":"black","tickWidth":1,"labelColor":"black","titleColor":"black","labelFont":"Liberation Sans","titleFont":"Liberation Sans","titleFontWeight":"normal","labelOverlap":false,"labelBound":false,"labelFlush":false},
 "text":{"font":"Liberation Sans"}
}
}
